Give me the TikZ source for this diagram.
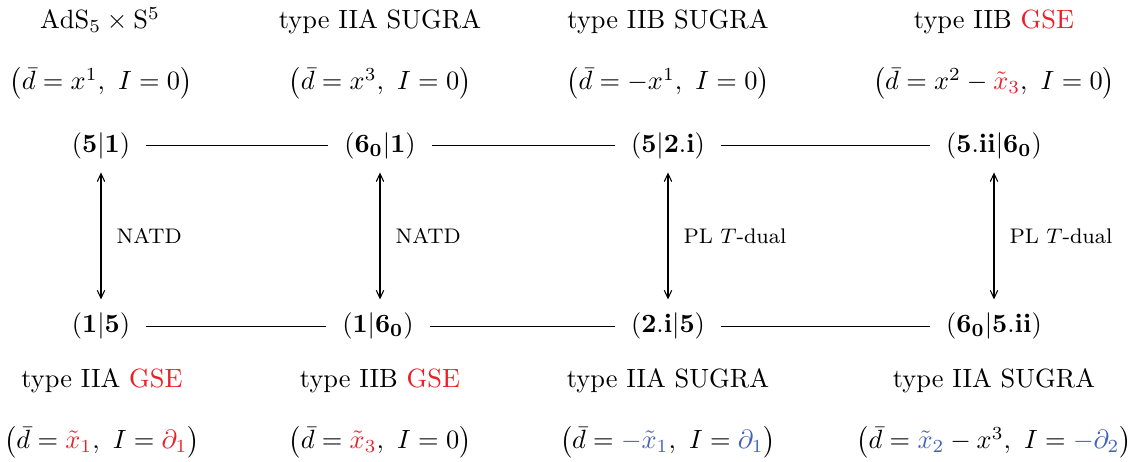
\documentclass[tikz,border=0pt]{standalone}
\usetikzlibrary{arrows.meta}
\usepackage{amsmath}
\usepackage{xcolor}
\definecolor{myred}{rgb}{0.92,0.12,0.16}
\definecolor{myblue}{rgb}{0.26,0.38,0.72}
\begin{document}
\begin{tikzpicture}[x=0.37879pt,y=-0.37879pt,
  rep/.style={inner xsep=6pt,inner ysep=5pt,text height=7.5pt,text depth=2.5pt,anchor=base},
  ttl/.style={inner sep=0pt,anchor=base},
  dual/.style={{Straight Barb[length=3pt,width=2.8pt]}-{Straight Barb[length=3pt,width=2.8pt]}},
  dlab/.style={right,inner xsep=5.7pt,font=\footnotesize},
  link/.style={draw}]
\useasboundingbox (0,0) rectangle (1136,462);
% titles top
\node[ttl] (t1) at (100,29) {$\mathrm{AdS}_5\times\mathrm{S}^5$};
\node[ttl] (t2) at (380,29) {type IIA SUGRA};
\node[ttl] (t3) at (668,29) {type IIB SUGRA};
\node[ttl] (t4) at (994,29) {type IIB \textcolor{myred}{GSE}};
\node[ttl] (f1) at (101,90) {$\big(\bar d = x^1,\ I=0\big)$};
\node[ttl] (f2) at (380,90) {$\big(\bar d = x^3,\ I=0\big)$};
\node[ttl] (f3) at (668,90) {$\big(\bar d = -x^1,\ I=0\big)$};
\node[ttl] (f4) at (994,90) {$\big(\bar d = x^2-{\color{myred}\tilde x_3},\ I=0\big)$};
% top nodes
\node[rep] (a1) at (101,152.1) {$(\mathbf{5}|\mathbf{1})$};
\node[rep] (a2) at (380,152.1) {$(\mathbf{6_0}|\mathbf{1})$};
\node[rep] (a3) at (668,152.1) {$(\mathbf{5}|\mathbf{2.i})$};
\node[rep] (a4) at (994,152.1) {$(\mathbf{5.ii}|\mathbf{6_0})$};
% bottom nodes
\node[rep] (b1) at (101,333) {$(\mathbf{1}|\mathbf{5})$};
\node[rep] (b2) at (378,333) {$(\mathbf{1}|\mathbf{6_0})$};
\node[rep] (b3) at (668,333) {$(\mathbf{2.i}|\mathbf{5})$};
\node[rep] (b4) at (994,333) {$(\mathbf{6_0}|\mathbf{5.ii})$};
% bottom titles
\node[ttl] (s1) at (102,388) {type IIA \textcolor{myred}{GSE}};
\node[ttl] (s2) at (380,388) {type IIB \textcolor{myred}{GSE}};
\node[ttl] (s3) at (668,388) {type IIA SUGRA};
\node[ttl] (s4) at (994,388) {type IIA SUGRA};
\node[ttl] (g1) at (102,449) {$\big(\bar d = {\color{myred}\tilde x_1},\ I={\color{myred}\partial_1}\big)$};
\node[ttl] (g2) at (380,449) {$\big(\bar d = {\color{myred}\tilde x_3},\ I=0\big)$};
\node[ttl] (g3) at (668,449) {$\big(\bar d = {\color{myblue}-\tilde x_1},\ I={\color{myblue}\partial_1}\big)$};
\node[ttl] (g4) at (994,449) {$\big(\bar d = {\color{myblue}\tilde x_2}-x^3,\ I={\color{myblue}-\partial_2}\big)$};
% horizontal links
\draw[link] (a1.east) -- (a2.west);
\draw[link] (a2.east) -- (a3.west);
\draw[link] (a3.east) -- (a4.west);
\draw[link] (b1.east) -- (b2.west);
\draw[link] (b2.east) -- (b3.west);
\draw[link] (b3.east) -- (b4.west);
% vertical dualities
\draw[dual] (a1.south) -- node[dlab] {NATD} (b1.north);
\draw[dual] (a2.south) -- node[dlab] {NATD} (b2.north -| a2.south);
\draw[dual] (a3.south) -- node[dlab] {PL $T$-dual} (b3.north);
\draw[dual] (a4.south) -- node[dlab] {PL $T$-dual} (b4.north);
\end{tikzpicture}
\end{document}
